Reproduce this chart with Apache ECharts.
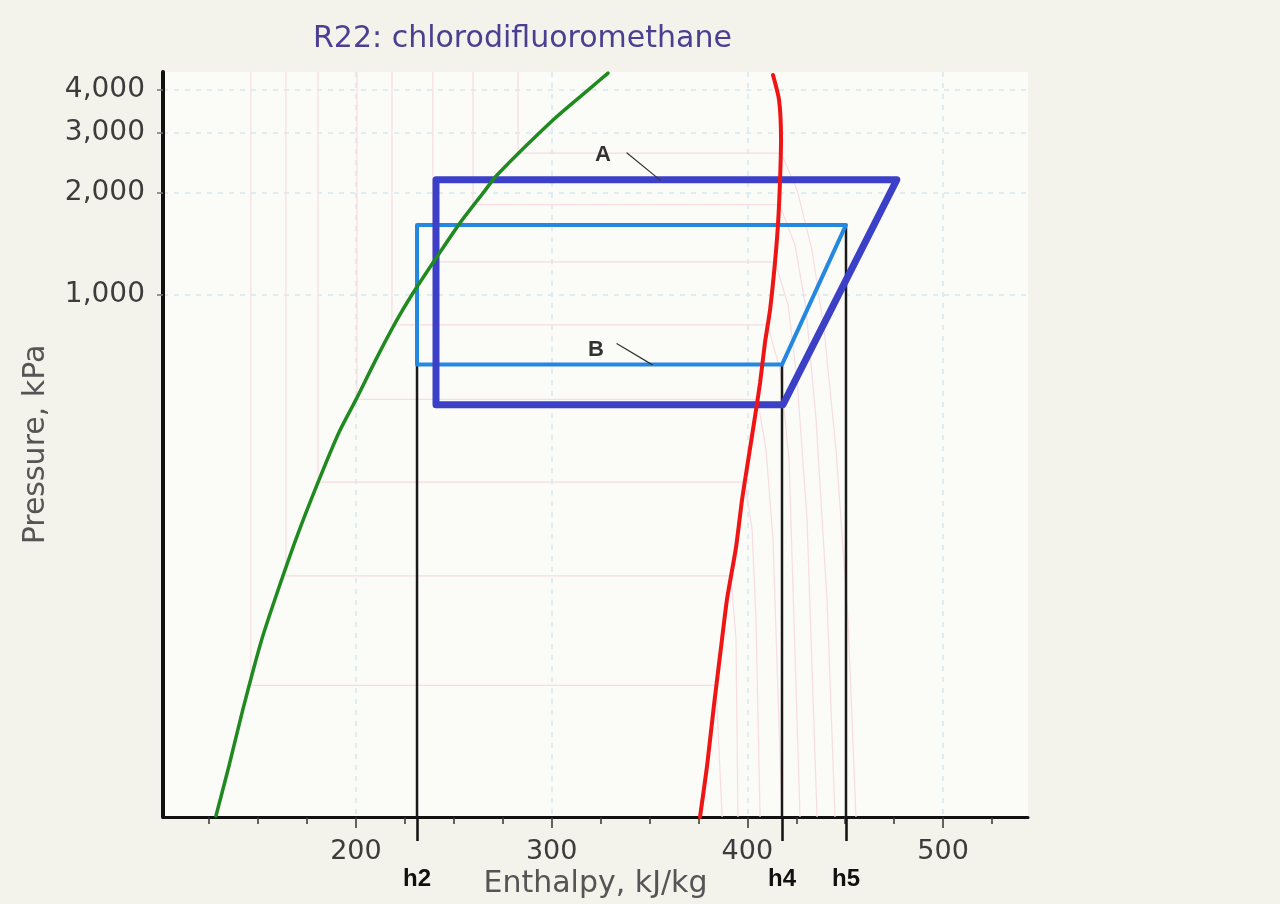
<!DOCTYPE html>
<html>
<head>
<meta charset="utf-8">
<script src="https://cdn.jsdelivr.net/npm/echarts@6/dist/echarts.min.js"></script>
<style>
html,body{margin:0;padding:0;background:#f3f3ec;}
#chart{width:1280px;height:904px;}
</style>
</head>
<body>
<div id="chart"></div>
<script>
// ---- axis ranges & ticks ----
const X_MIN = 101.4, X_MAX = 543.4;
const Y_MIN = 29.1, Y_MAX = 4520;
const xMinorTicks = [125,150,175,225,250,275,325,350,375,425,450,475,525];
const xMajorTicks = [200,300,400,500];
const stateTicks = [231.2, 417.7, 450.4];
const stateLabels = ['h2','h4','h5'];
const yTicks = [1000,2000,3000,4000];

// ---- saturation curves [h kJ/kg, P kPa] ----
const liquidLine = [[128.45,29.3],[135.1,41.1],[142.25,60.4],[151.45,95.1],[158.6,127.2],[169.3,190.8],
  [180.6,280.5],[191.3,393.3],[200.0,491.5],[210.5,650],[221.0,844.5],[228.6,1000],[241.4,1293],[253.2,1627],
  [265.4,2007],[272.1,2251],[300.7,3266],[318.6,4000],[328.8,4487]];
const vaporLine = [[375.8,29.1],[379.4,41.1],[383.0,62.5],[387.05,97.0],[389.6,127.2],[394.2,180.7],
  [397.3,250],[400.3,323],[403.9,438],[406.5,551],[409.0,723],[411.6,904],[414.1,1242],[415.7,1627],
  [416.7,2177],[417.2,2852],[416.2,3738],[413.1,4428]];

// ---- isotherms: saturation pressure, liquid & vapour enthalpy, superheated tail ----
const isoPsat = [2610, 1840, 1250, 815, 492, 281, 149, 71];
const isoHf   = [282.8, 259.8, 239.3, 218.4, 200.5, 180.6, 164.2, 146.3];
const isoHg   = [417.2, 416.4, 414.1, 410.3, 405.2, 398.8, 391.6, 384.0];
const isoTails = [
  [[425.4,2034],[433.0,1356],[439.2,789],[445.3,351],[451.4,111],[455.5,29.1]],
  [[424.4,1402],[430.0,904],[435.1,430],[440.7,127],[444.8,29.1]],
  [[420.8,934],[425.4,563],[430.5,218],[435.6,29.1]],
  [[416.7,602],[421.3,328],[426.9,29.1]],
  [[409.5,351],[413.1,191],[417.7,29.1]],
  [[402.4,204],[404.4,111],[406.5,29.1]],
  [[394.2,97],[395.2,29.1]],
  [[387.1,29.1]]
];

// ---- cycles ----
const cycleA = [[240.9,2180],[476.4,2180],[418.2,475],[240.9,475],[240.9,2180]];
const cycleB = [[231.2,1605],[450.4,1605],[417.7,623],[231.2,623],[231.2,1605]];
const h2Line = [[231.2,29.1],[231.2,623]];
const h4Line = [[417.7,29.1],[417.7,623]];
const h5Line = [[450.4,29.1],[450.4,1605]];

// ---- annotations ----
const labelA = [326.2, 2577];
const leaderA = [[338.5,2612],[355.3,2177]];
const labelB = [322.6, 689];
const leaderB = [[333.4,718],[351.3,623]];

const FONT = '"DejaVu Sans", Verdana, sans-serif';
const BOLD = '"Liberation Sans", Arial, sans-serif';

const chart = echarts.init(document.getElementById('chart'), null, {renderer:'canvas'});

const isoSeries = isoPsat.map((p, i) => ({
  type:'line', silent:true, symbol:'none', z:1,
  lineStyle:{color:'#f8dce1', width:1.2},
  data: [[isoHf[i], Y_MAX],[isoHf[i], p],[isoHg[i], p]].concat(isoTails[i])
}));

function lineSeries(data, color, width, z, smooth) {
  return {type:'line', silent:true, symbol:'none', z:z, data:data, smooth:smooth || false,
    lineStyle:{color:color, width:width, cap:'round', join:'round'}};
}

const axisBase = {type:'value', min:X_MIN, max:X_MAX, position:'bottom'};

const option = {
  backgroundColor:'#f3f3ec',
  animation:false,
  title:{
    text:'R22: chlorodifluoromethane', left:308, top:19,
    textStyle:{fontFamily:FONT, fontSize:30, fontWeight:'normal', color:'#4b3f92'}
  },
  grid:{left:163, right:252, top:72, bottom:86, show:true, backgroundColor:'#fbfbf8', borderWidth:0},
  xAxis:[
    Object.assign({}, axisBase, {
      name:'Enthalpy, kJ/kg', nameLocation:'middle', nameGap:52,
      nameTextStyle:{fontFamily:FONT, fontSize:30, color:'#555'},
      axisLine:{show:true, onZero:false, lineStyle:{color:'#111', width:3}},
      axisTick:{show:true, customValues:xMinorTicks, length:7, lineStyle:{color:'#333', width:1.5}},
      axisLabel:{show:false},
      splitLine:{show:false}
    }),
    Object.assign({}, axisBase, {
      axisLine:{show:false, onZero:false},
      axisTick:{show:true, customValues:xMajorTicks, length:11, lineStyle:{color:'#333', width:1.5}},
      axisLabel:{show:true, customValues:xMajorTicks, margin:21, fontFamily:FONT, fontSize:27, color:'#3c3c3c'},
      splitLine:{show:true, lineStyle:{type:[5,6], color:'#d6e7f0', width:1.5}}
    }),
    Object.assign({}, axisBase, {
      axisLine:{show:false, onZero:false},
      axisTick:{show:true, customValues:stateTicks, length:24, lineStyle:{color:'#111', width:2.5}},
      axisLabel:{show:true, customValues:stateTicks, margin:50, fontFamily:BOLD, fontWeight:'bold', fontSize:24, color:'#111',
        formatter:function(v){ const i = stateTicks.findIndex(t => Math.abs(t - v) < 0.01); return i >= 0 ? stateLabels[i] : ''; }},
      splitLine:{show:false}
    })
  ],
  yAxis:{
    type:'log', logBase:10, min:Y_MIN, max:Y_MAX,
    name:'Pressure, kPa', nameLocation:'middle', nameGap:112,
    nameTextStyle:{fontFamily:FONT, fontSize:30, color:'#555'},
    axisLine:{show:true, onZero:false, lineStyle:{color:'#111', width:4}},
    axisTick:{show:true, customValues:yTicks, length:6, lineStyle:{color:'#777', width:1.5}},
    axisLabel:{show:true, customValues:yTicks, margin:18, fontFamily:FONT, fontSize:28, color:'#3c3c3c',
      formatter:function(v){ return Math.round(v).toLocaleString('en-US'); }},
    splitLine:{show:true, lineStyle:{type:[5,6], color:'#d6e7f0', width:1.5}}
  },
  series: isoSeries.concat([
    lineSeries(h2Line, '#1a1a1a', 2.5, 4),
    lineSeries(h4Line, '#1a1a1a', 2.5, 4),
    lineSeries(h5Line, '#1a1a1a', 2.5, 4),
    lineSeries(cycleB, '#2588e0', 4, 5),
    lineSeries(cycleA, '#3c40c6', 7, 6),
    lineSeries(liquidLine, '#1f8a1f', 3.5, 7, 0.25),
    lineSeries(vaporLine, '#ee1515', 4, 7, 0.2),
    lineSeries(leaderA, '#333', 1.2, 8),
    lineSeries(leaderB, '#333', 1.2, 8),
    {type:'scatter', silent:true, symbolSize:0, z:9,
      data:[{value:labelA, name:'A'},{value:labelB, name:'B'}],
      label:{show:true, position:'inside', formatter:'{b}', fontFamily:BOLD, fontWeight:'bold', fontSize:22, color:'#000', textBorderWidth:0}}
  ])
};
chart.setOption(option);
</script>
</body>
</html>
